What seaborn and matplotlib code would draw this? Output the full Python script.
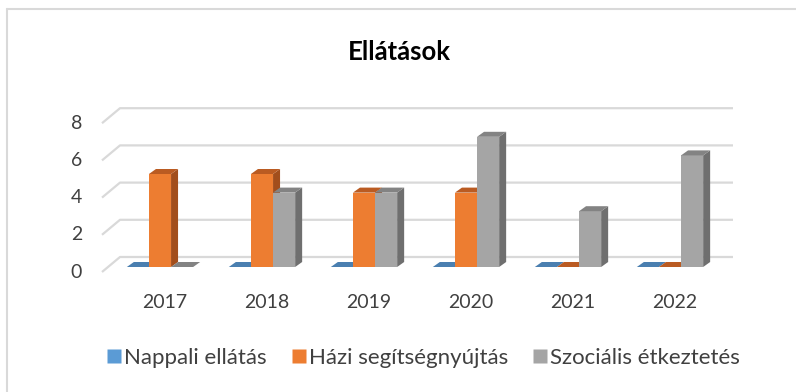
import matplotlib
matplotlib.use("Agg")
import matplotlib.pyplot as plt
from matplotlib.patches import Polygon, Rectangle
from matplotlib.lines import Line2D
import matplotlib.colors as mcolors
import numpy as np
import pandas as pd
import seaborn as sns

years = ["2017", "2018", "2019", "2020", "2021", "2022"]
nappali = [0, 0, 0, 0, 0, 0]
hazi = [5, 5, 4, 4, 0, 0]
szocialis = [0, 4, 4, 7, 3, 6]
series_names = ["Nappali ellátás", "Házi segítségnyújtás", "Szociális étkeztetés"]
y_ticks = [0, 2, 4, 6, 8]
title = "Ellátások"

front_colors = ["#5B9BD5", "#ED7D31", "#A5A5A5"]
side_colors = ["#41719C", "#A24E1C", "#6F6F6F"]
top_colors = ["#4A7FB0", "#BA5B22", "#838383"]

df = pd.DataFrame({
    "év": years * 3,
    "sorozat": np.repeat(series_names, len(years)),
    "érték": nappali + hazi + szocialis,
})

sns.set_theme(style="white")
plt.rcParams["font.family"] = ["Lato", "DejaVu Sans"]

W, H = 796, 392
fig = plt.figure(figsize=(W / 100, H / 100), dpi=100)
ax = fig.add_axes([0, 0, 1, 1])

# pixel geometry of the pseudo-3D plot box
group_px = 102.0      # distance between category centres
first_px = 160.0      # centre of first category
unit_px = 18.6        # pixels per value unit
base_py = 267.0       # bar front baseline (pixels from top)

def dx(px):
    return px / group_px

def dy(px):
    return px / unit_px

sns.barplot(data=df, x="év", y="érték", hue="sorozat", order=years,
            hue_order=series_names, palette=front_colors, width=0.65,
            linewidth=0, saturation=1, ax=ax, legend=False)

ax.set_xlim(-first_px / group_px, (W - first_px) / group_px)
ax.set_ylim((base_py - H) / unit_px, base_py / unit_px)
ax.axis("off")

# gridlines: back wall plus the slanted left wall segment
grid_col = "#D9D9D9"
front_x = dx(102 - first_px)
back_x0 = dx(120 - first_px)
back_x1 = dx(733 - first_px)
for v in y_ticks:
    yf = v - dy(5)
    yb = v + dy(10)
    ax.plot([front_x, back_x0, back_x1], [yf, yb, yb], color=grid_col,
            lw=1.6, zorder=1, solid_capstyle="butt")
    ax.text(dx(82 - first_px), yf, str(v), ha="right", va="center",
            fontsize=14, color="#404040")

# depth faces of each bar
ddx, ddy = dx(7), dy(5)
fc_map = {mcolors.to_hex(c).lower(): i for i, c in enumerate(front_colors)}
bars = [p for p in ax.patches if isinstance(p, Rectangle)]
bars.sort(key=lambda p: p.get_x())
for k, p in enumerate(bars):
    x0, w, h = p.get_x(), p.get_width(), p.get_height()
    idx = fc_map.get(mcolors.to_hex(p.get_facecolor()).lower(), 0)
    z = 3 + k * 0.01
    p.set_zorder(z)
    side = Polygon([(x0 + w, 0), (x0 + w + ddx, ddy), (x0 + w + ddx, h + ddy),
                    (x0 + w, h)], closed=True, facecolor=side_colors[idx],
                   edgecolor="none", zorder=z)
    top = Polygon([(x0, h), (x0 + ddx, h + ddy), (x0 + w + ddx, h + ddy),
                   (x0 + w, h)], closed=True, facecolor=top_colors[idx],
                  edgecolor="none", zorder=z)
    ax.add_patch(side)
    ax.add_patch(top)

# category labels under the floor
for i, yr in enumerate(years):
    ax.text(i + dx(5), dy(base_py - 302), yr, ha="center", va="center",
            fontsize=14, color="#404040")

fig.text(399 / W, 1 - 52 / H, title, ha="center", va="center",
         fontsize=18.5, fontweight="bold", color="black")

handles = [Line2D([0], [0], marker="s", linestyle="none", markersize=10,
                  markerfacecolor=c, markeredgecolor="none") for c in front_colors]
fig.legend(handles, series_names, loc="center", ncol=3, frameon=False,
           bbox_to_anchor=(423 / W, 1 - 358 / H), fontsize=16,
           handletextpad=0.1, columnspacing=1.1, handlelength=0.7,
           labelcolor="#404040")

# chart area border
border = "#D9D9D9"
fig.add_artist(Line2D([7 / W, 1], [1 - 9 / H, 1 - 9 / H], color=border, lw=1.5))
fig.add_artist(Line2D([7 / W, 7 / W], [0, 1 - 9 / H], color=border, lw=1.5))

fig.savefig("out.png", dpi=100, facecolor="white")
